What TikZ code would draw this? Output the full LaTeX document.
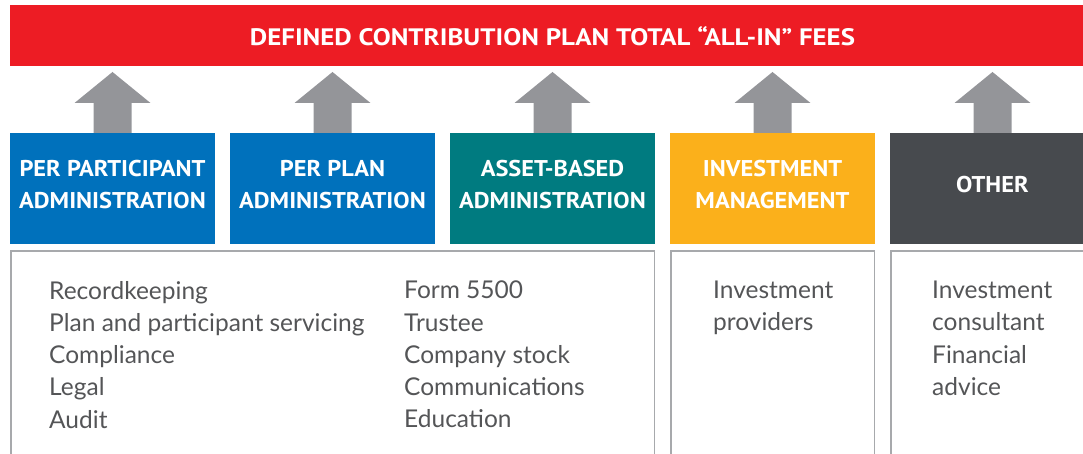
\documentclass[tikz,border=0pt]{standalone}
\usepackage{fontspec}
\setmainfont{Lato}
\newfontfamily\headfont{PT Sans}[FakeStretch=1.13]
\newfontfamily\catfont{PT Sans}[FakeStretch=1.07]
\usetikzlibrary{positioning,calc}

\definecolor{feesred}{HTML}{ED1C24}
\definecolor{adminblue}{HTML}{0071BC}
\definecolor{assetteal}{HTML}{007B80}
\definecolor{investgold}{HTML}{FBB01B}
\definecolor{othergray}{HTML}{474A4E}
\definecolor{arrowgray}{HTML}{949599}
\definecolor{framegray}{HTML}{A7A9AC}
\definecolor{listgray}{HTML}{545557}

\tikzset{
    feebar/.style={fill=feesred,text=white,minimum width=1085pt,minimum height=61pt,inner sep=0pt,
        text height=21pt,text depth=0pt,font=\headfont\bfseries\fontsize{23.8}{28}\selectfont},
    catbox/.style={minimum width=205pt,minimum height=111pt,inner sep=0pt,outer sep=0pt,
        text=white,align=center,font=\catfont\bfseries\fontsize{22.8}{32.3}\selectfont,
        execute at end node={\rule[-8pt]{0pt}{0pt}}},
    itemlist/.style={anchor=north west,inner sep=0pt,align=left,text=listgray,
        font=\fontsize{24.5}{32.2}\selectfont},
    frame/.style={draw=framegray,line width=1.5pt},
}

\begin{document}
\begin{tikzpicture}[x=1pt,y=1pt]
\useasboundingbox (0,0) rectangle (1083,-454);
\clip (0,0) rectangle (1083,-454);
\node[feebar] (fees) at (552.5,-35.5) {DEFINED CONTRIBUTION PLAN TOTAL “ALL-IN” FEES};
% fee categories
\node[catbox,fill=adminblue] (ppa) at (112.5,-188.5) {PER PARTICIPANT\\ADMINISTRATION};
\node[catbox,fill=adminblue,right=15pt of ppa] (ppl) {PER PLAN\\ADMINISTRATION};
\node[catbox,fill=assetteal,right=15pt of ppl] (aba) {ASSET-BASED\\ADMINISTRATION};
\node[catbox,fill=investgold,right=15pt of aba] (inv) {INVESTMENT\\MANAGEMENT};
\node[catbox,fill=othergray,right=15pt of inv] (oth) {OTHER};
% block arrows up to the bar
\foreach \b in {ppa,ppl,aba,inv,oth}
    \fill[arrowgray] ($(\b.north)+(-19,0)$) -- ++(0,30) -- ++(-19,0) -- ($(\b.north)+(0,61)$)
        -- ($(\b.north)+(38,30)$) -- ++(-19,0) -- ($(\b.north)+(19,0)$) -- cycle;
% open frames below
\draw[frame] ($(ppa.south west)+(0.75,-7)$) rectangle ($(aba.south east)+(-0.75,-240)$);
\draw[frame] ($(inv.south west)+(0.75,-7)$) rectangle ($(inv.south east)+(-0.75,-240)$);
\draw[frame] ($(oth.south west)+(0.75,-7)$) rectangle ($(oth.south east)+(-0.75,-240)$);
\node[itemlist] (admlist) at ($(ppa.south west)+(39,-37)$)
    {Recordkeeping\\Plan and participant servicing\\Compliance\\Legal\\Audit};
\node[itemlist] (admmore) at ($(ppl.south west)+(174,-37)$)
    {Form 5500\\Trustee\\Company stock\\Communications\\Education};
\node[itemlist] (invlist) at ($(inv.south west)+(43,-37)$) {Investment\\providers};
\node[itemlist] (othlist) at ($(oth.south west)+(42,-37)$) {Investment\\consultant\\Financial\\advice};
\end{tikzpicture}
\end{document}
